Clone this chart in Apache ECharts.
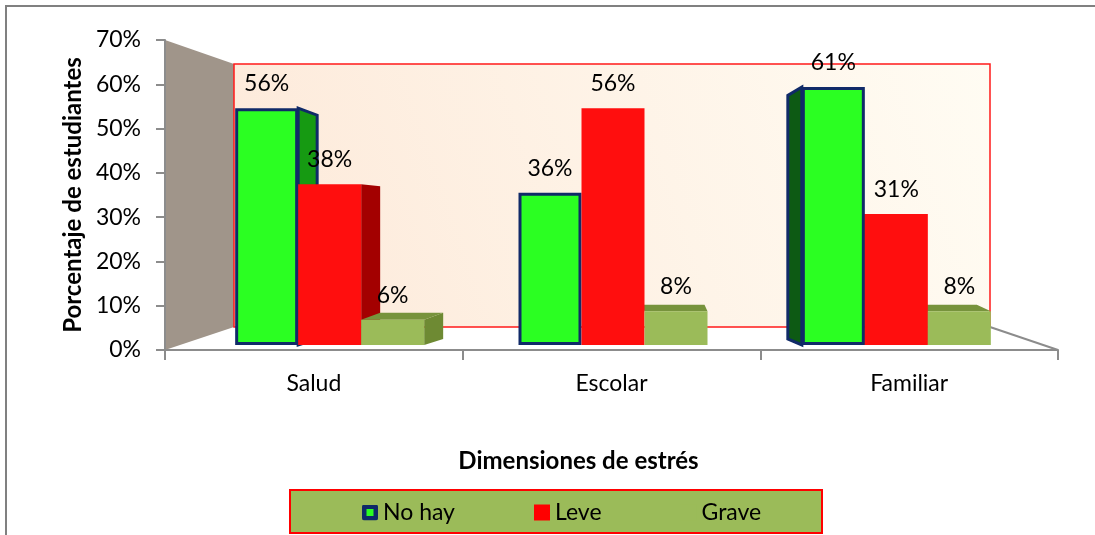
<!DOCTYPE html>
<html>
<head>
<meta charset="utf-8">
<script src="https://cdn.jsdelivr.net/npm/echarts@6/dist/echarts.min.js"></script>
<style>
html,body{margin:0;padding:0;background:#fff;}
#chart{width:1095px;height:535px;}
</style>
</head>
<body>
<div id="chart"></div>
<script>
// ---- data ----
const categories = ['Salud', 'Escolar', 'Familiar'];
const seriesNames = ['No hay', 'Leve', 'Grave'];
const noHay = [56, 36, 61];
const leve = [38, 56, 31];
const grave = [6, 8, 8];
const yAxisTitle = 'Porcentaje de estudiantes';
const xAxisTitle = 'Dimensiones de estrés';

// ---- layout / style ----
const FONT = 'Lato, "Open Sans", sans-serif';
const W = 1095, H = 535;
const G = {left: 165, right: 37, top: 40, bottom: 185};      // visible (front) axes
const G2 = {left: 188, right: 57, top: 49, bottom: 190};     // bar plane (perspective)
const BAR_W = 63;
const DEPTH_DX = [19, -3, -14];   // perspective shift per category
const EYE_VALUE = 31;
const NAVY = '#102A68';
const FRONT = ['#2BFF22', '#FF0E0E', '#9BBB59'];
const SIDE_R = ['#169A12', '#A30000', '#6E8A33'];
const SIDE_L = ['#0D5A14', '#A30000', '#6E8A33'];
const TOPC = ['#1E8A16', '#C00000', '#77933C'];

const NOHAY_ICON = 'image://data:image/svg+xml;utf8,' + encodeURIComponent(
  '<svg xmlns="http://www.w3.org/2000/svg" width="16" height="16" viewBox="0 0 16 16">' +
  '<rect x="0" y="0" width="16" height="16" rx="2.5" ry="2.5" fill="#0F2A68"/>' +
  '<rect x="4.5" y="4.5" width="7" height="7" fill="#2BFF22"/></svg>');

const chart = echarts.init(document.getElementById('chart'), null, {renderer: 'canvas'});

const gx0 = G.left, gx1 = W - G.right, gy0 = G.top, gy1 = H - G.bottom;
const back = {x0: gx0 + 69, x1: gx1 - 68, y0: gy0 + 24, y1: gy1 - 23};

function renderDepth(params, api) {
  const idx = api.value(0);
  const base = api.coord([idx, 0]);
  const eyeY = api.coord([idx, EYE_VALUE])[1];
  const dx = DEPTH_DX[idx];
  const children = [];
  for (let s = 0; s < 3; s++) {
    const v = api.value(s + 1);
    const y = api.coord([idx, v])[1];
    const yb = base[1];
    const cx = base[0] + (s - 1) * BAR_W;
    const xl = cx - BAR_W / 2, xr = cx + BAR_W / 2;
    const dy = (y - eyeY) * -0.066;
    if (Math.abs(dx) > 4) {
      const xe = dx > 0 ? xr : xl;
      children.push({
        type: 'polygon',
        shape: {points: [[xe, y], [xe + dx, y + dy], [xe + dx, yb - 6], [xe, yb]]},
        style: {fill: dx > 0 ? SIDE_R[s] : SIDE_L[s], stroke: s === 0 ? NAVY : null, lineWidth: s === 0 ? 3 : 0}
      });
    }
    if (dy < -1) {
      children.push({
        type: 'polygon',
        shape: {points: [[xl, y], [xr, y], [xr + dx, y + dy], [xl + dx, y + dy]]},
        style: {fill: TOPC[s], stroke: s === 0 ? NAVY : null, lineWidth: s === 0 ? 3 : 0}
      });
    }
  }
  return {type: 'group', children};
}

const labelCfg = {
  show: true, position: 'top', distance: 13,
  formatter: '{c}%', color: '#000', fontSize: 23, fontFamily: FONT
};

const option = {
  backgroundColor: '#fff',
  animation: false,
  textStyle: {fontFamily: FONT},
  grid: [
    {left: G.left, right: G.right, top: G.top, bottom: G.bottom, containLabel: false, outerBoundsMode: 'none'},
    {left: G2.left, right: G2.right, top: G2.top, bottom: G2.bottom, containLabel: false, outerBoundsMode: 'none'}
  ],
  graphic: [
    {type: 'rect', z: -10, shape: {x: 6, y: 6, width: W + 20, height: H + 20},
     style: {fill: '#fff', stroke: '#808080', lineWidth: 2}},
    {type: 'polygon', z: -5,
     shape: {points: [[gx0, gy0], [back.x0, back.y0], [back.x0, back.y1], [gx0, gy1]]},
     style: {fill: '#A0958A'}},
    {type: 'rect', z: -5,
     shape: {x: back.x0, y: back.y0, width: back.x1 - back.x0, height: back.y1 - back.y0},
     style: {
       fill: new echarts.graphic.LinearGradient(0, 1, 1, 0, [
         {offset: 0, color: '#FDE9D9'}, {offset: 1, color: '#FFFCF3'}
       ]),
       stroke: '#FF1A1A', lineWidth: 1.5
     }},
    {type: 'line', z: -4, shape: {x1: back.x1, y1: back.y1, x2: gx1, y2: gy1},
     style: {stroke: '#8C8C8C', lineWidth: 2}},
    {type: 'rect', z: -5, shape: {x: 290, y: 490, width: 532, height: 43},
     style: {fill: '#9BBB59', stroke: '#FF0000', lineWidth: 2}}
  ],
  legend: {
    data: [
      {name: seriesNames[0], icon: NOHAY_ICON},
      {name: seriesNames[1], icon: 'rect', itemStyle: {color: '#FF0000', borderWidth: 0}},
      {name: seriesNames[2], icon: 'rect', itemStyle: {color: FRONT[2], borderWidth: 0}}
    ],
    left: 357, top: 496,
    itemWidth: 16, itemHeight: 16, itemGap: 79,
    textStyle: {fontSize: 23, color: '#000', fontFamily: FONT}
  },
  xAxis: [
    {
      type: 'category', gridIndex: 0,
      data: categories,
      name: xAxisTitle, nameLocation: 'middle', nameGap: 99,
      nameTextStyle: {fontSize: 24, fontWeight: 'bold', color: '#000', fontFamily: FONT,
                      padding: [0, 66, 0, 0]},
      axisLine: {lineStyle: {color: '#8C8C8C', width: 2}},
      axisTick: {show: true, length: 10, lineStyle: {color: '#8C8C8C', width: 2}},
      axisLabel: {fontSize: 23, color: '#000', margin: 22, fontFamily: FONT},
      splitLine: {show: false}
    },
    {
      type: 'category', gridIndex: 1, data: categories,
      show: false
    }
  ],
  yAxis: [
    {
      type: 'value', gridIndex: 0, min: 0, max: 70, interval: 10,
      name: yAxisTitle, nameLocation: 'middle', nameGap: 80, nameRotate: 90,
      nameTextStyle: {fontSize: 24, fontWeight: 'bold', color: '#000', fontFamily: FONT},
      axisLine: {show: true, lineStyle: {color: '#8C8C8C', width: 2}},
      axisTick: {show: true, length: 9, lineStyle: {color: '#8C8C8C', width: 2}},
      axisLabel: {formatter: '{value}%', fontSize: 23, color: '#000', margin: 24, fontFamily: FONT},
      splitLine: {show: false}
    },
    {
      type: 'value', gridIndex: 1, min: 0, max: 70, interval: 10, show: false,
      splitLine: {show: false}
    }
  ],
  series: [
    {type: 'custom', name: 'depth', z: 1, silent: true, xAxisIndex: 1, yAxisIndex: 1,
     data: categories.map((c, i) => [i, noHay[i], leve[i], grave[i]]),
     encode: {x: 0, y: [1, 2, 3]},
     renderItem: renderDepth},
    {type: 'bar', name: seriesNames[0], data: noHay, barWidth: BAR_W, barGap: '0%', z: 3,
     xAxisIndex: 1, yAxisIndex: 1,
     itemStyle: {color: FRONT[0], borderColor: NAVY, borderWidth: 3}, label: labelCfg},
    {type: 'bar', name: seriesNames[1], data: leve, barWidth: BAR_W, barGap: '0%', z: 3,
     xAxisIndex: 1, yAxisIndex: 1,
     itemStyle: {color: FRONT[1]}, label: labelCfg},
    {type: 'bar', name: seriesNames[2], data: grave, barWidth: BAR_W, barGap: '0%', z: 3,
     xAxisIndex: 1, yAxisIndex: 1,
     itemStyle: {color: FRONT[2]}, label: labelCfg}
  ]
};
chart.setOption(option);
</script>
</body>
</html>
